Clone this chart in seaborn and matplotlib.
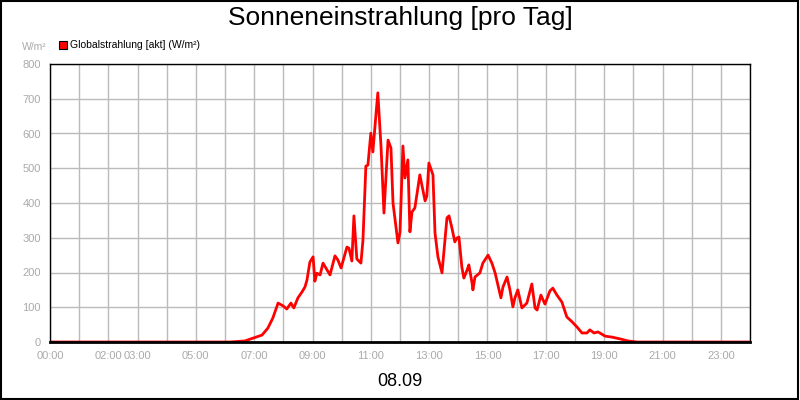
import numpy as np
import pandas as pd
import matplotlib
matplotlib.use("Agg")
import matplotlib.pyplot as plt
import seaborn as sns

# Zeit in Stunden, Globalstrahlung in W/m²
hours = [0.0, 6.17, 6.68, 7.27, 7.47, 7.64, 7.82, 7.99, 8.12, 8.26, 8.36, 8.50, 8.64, 8.74,
         8.81, 8.91, 9.02, 9.08, 9.15, 9.26, 9.36, 9.60, 9.77, 9.87, 9.98, 10.18, 10.25,
         10.35, 10.42, 10.52, 10.66, 10.73, 10.83, 10.90, 11.00, 11.07, 11.18, 11.24,
         11.35, 11.45, 11.59, 11.69, 11.76, 11.93, 12.00, 12.10, 12.17, 12.27, 12.34,
         12.41, 12.51, 12.68, 12.86, 12.92, 12.99, 13.13, 13.20, 13.30, 13.44, 13.61,
         13.68, 13.78, 13.88, 13.95, 14.02, 14.12, 14.19, 14.30, 14.36, 14.47, 14.50,
         14.57, 14.74, 14.84, 15.02, 15.15, 15.26, 15.46, 15.53, 15.67, 15.77, 15.87,
         15.94, 16.04, 16.18, 16.35, 16.52, 16.63, 16.70, 16.83, 16.97, 17.14, 17.24,
         17.38, 17.55, 17.72, 17.90, 18.07, 18.24, 18.41, 18.51, 18.65, 18.79, 19.03,
         19.27, 19.54, 19.82, 20.13, 24.0]
radiation = [0, 0, 3, 20, 40, 69, 112, 104, 95, 112, 98, 127, 144, 158,
             178, 230, 245, 175, 198, 193, 227, 193, 248, 236, 213, 273, 270,
             233, 363, 239, 227, 293, 506, 509, 601, 547, 659, 717,
             561, 371, 581, 558, 400, 285, 316, 564, 472, 524, 317,
             374, 386, 481, 406, 420, 515, 481, 314, 245, 199, 357,
             363, 328, 288, 299, 302, 216, 184, 207, 222, 170, 150,
             187, 199, 227, 250, 227, 199, 127, 158, 187, 150, 101,
             127, 150, 98, 112, 167, 98, 92, 135, 109, 147, 155,
             135, 115, 72, 58, 43, 26, 26, 35, 26, 29, 17,
             14, 9, 3, 0, 0]

tick_hours = [0, 2, 3, 5, 7, 9, 11, 13, 15, 17, 19, 21, 23]
tick_labels = [f"{h:02d}:00" for h in tick_hours]
y_ticks = list(range(0, 801, 100))

df = pd.DataFrame({"hour": hours, "value": radiation})

sns.set_style("white")
plt.rcParams["font.family"] = ["Liberation Sans", "DejaVu Sans"]

fig = plt.figure(figsize=(8, 4), dpi=100)
ax = fig.add_axes([50 / 800, 58 / 400, 700 / 800, 278 / 400])

sns.lineplot(data=df, x="hour", y="value", color="#ff0000", linewidth=2, ax=ax)

ax.set_xlim(0, 24)
ax.set_ylim(0, 800)
ax.set_xticks(range(0, 25), minor=True)
ax.set_xticks(tick_hours)
ax.set_xticklabels(tick_labels, fontsize=8, color="#aaaaaa")
ax.set_yticks(y_ticks)
ax.set_yticklabels([str(v) for v in y_ticks], fontsize=8, color="#aaaaaa")
ax.grid(True, which="both", color="#bbbbbb", linewidth=1)
ax.tick_params(which="both", length=3, color="#888888")
ax.set_xlabel("")
ax.set_ylabel("")
for s in ax.spines.values():
    s.set_color("black")
    s.set_linewidth(1)
ax.spines["bottom"].set_linewidth(2)

fig.text(0.5, 1 - 18 / 400, "Sonneneinstrahlung [pro Tag]", ha="center", va="center",
         fontsize=19, color="black")
fig.text(0.5, 0.045, "08.09", ha="center", va="center", fontsize=13, color="black")
fig.text(22 / 800, 1 - 47 / 400, "W/m²", ha="left", va="center", fontsize=7.5, color="#aaaaaa")
fig.patches.append(plt.Rectangle((59 / 800, 1 - 49 / 400), 8 / 800, 8 / 400, facecolor="#ff0000",
                                 edgecolor="black", linewidth=0.8, transform=fig.transFigure))
fig.text(70 / 800, 1 - 44.5 / 400, "Globalstrahlung [akt] (W/m²)", ha="left", va="center",
         fontsize=7.5, color="black")
fig.patches.append(plt.Rectangle((0.001, 0.002), 0.997, 0.995, fill=False, edgecolor="black",
                                 linewidth=1.5, transform=fig.transFigure))

fig.savefig("out.png", dpi=100)
